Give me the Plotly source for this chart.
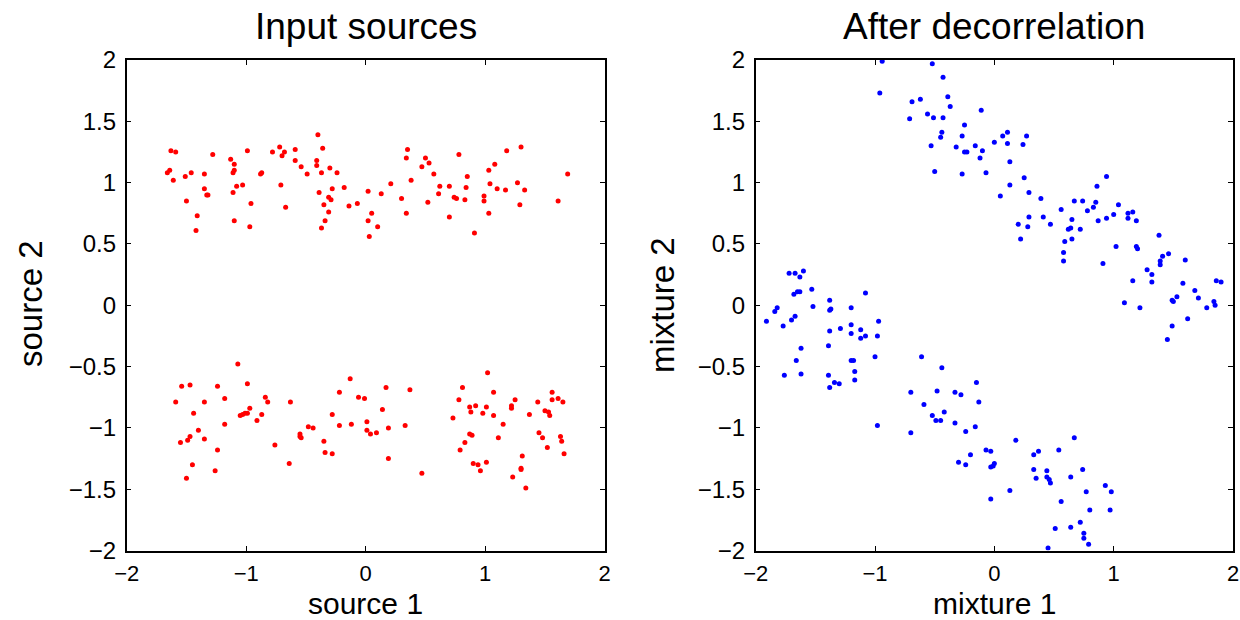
import plotly.graph_objects as go

# ---- Input sources: two independent sources (source 1, source 2) ----
src1 = [
    -1.66, -1.64, -1.63, -1.59, -1.61, -1.51, -1.50, -1.46, -1.41, -1.42,
    -1.35, -1.35, -1.33, -1.32, -1.28, -1.13, -1.10, -1.11, -1.10, -1.08,
    -1.11, -1.10, -1.03, -0.99, -0.96, -0.97, -0.88, -0.87, -0.78, -0.72,
    -0.70, -0.68, -0.71, -0.67, -0.59, -0.59, -0.54, -0.49, -0.40, -0.36,
    -0.41, -0.41, -0.37, -0.30, -0.24, -0.39, -0.28, -0.31, -0.29, -0.35,
    -0.31, -0.34, -0.37, -0.18, -0.14, -0.07, 0.02, 0.05, 0.02, 0.03,
    0.10, 0.13, 0.21, 0.30, 0.34, 0.35, 0.34, 0.38, 0.47, 0.50,
    0.53, 0.52, 0.57, 0.62, 0.61, 0.70, 0.70, 0.74, 0.76, 0.78,
    0.85, 0.84, 0.83, 0.91, 0.99, 0.99, 1.03, 1.04, 1.03, 1.08,
    1.10, 1.18, 1.17, 1.27, 1.29, 1.30, 1.33, 1.61, 1.69,
    -1.59, -1.55, -1.54, -1.47, -1.44, -1.47, -1.49, -1.50, -1.45, -1.40,
    -1.35, -1.35, -1.24, -1.18, -1.18, -1.24, -1.26, -1.07, -0.99, -1.05,
    -1.03, -1.01, -0.99, -0.97, -0.91, -0.87, -0.84, -0.82, -0.76, -0.63,
    -0.64, -0.55, -0.55, -0.54, -0.48, -0.44, -0.35, -0.34, -0.28, -0.28,
    -0.22, -0.22, -0.13, -0.12, -0.06, -0.01, 0.01, 0.01, 0.04, 0.09,
    0.14, 0.17, 0.19, 0.19, 0.33, 0.37, 0.47, 0.73, 0.78, 0.81,
    0.79, 0.83, 0.87, 0.89, 0.87, 0.88, 0.92, 0.90, 0.94, 0.96,
    0.98, 1.01, 1.01, 1.02, 1.07, 1.07, 1.11, 1.15, 1.22, 1.22,
    1.25, 1.23, 1.31, 1.30, 1.30, 1.34, 1.37, 1.44, 1.45, 1.48,
    1.50, 1.53, 1.54, 1.52, 1.56, 1.56, 1.61, 1.65, 1.63, 1.64,
    1.66,
]
src2 = [
    1.08, 1.10, 1.26, 1.25, 1.02, 1.05, 0.85, 1.08, 0.73, 0.61,
    1.07, 0.95, 0.90, 0.90, 1.23, 1.19, 1.15, 1.08, 1.10, 0.97,
    0.92, 0.69, 0.98, 1.26, 0.83, 0.64, 1.07, 1.08, 1.25, 1.29,
    1.22, 1.25, 0.98, 0.80, 1.27, 1.18, 1.13, 1.07, 1.39, 1.28,
    1.18, 1.14, 1.08, 1.12, 1.08, 0.92, 0.95, 0.88, 0.86, 0.82,
    0.76, 0.69, 0.63, 0.96, 0.81, 0.83, 0.93, 0.75, 0.69, 0.56,
    0.64, 0.91, 0.99, 0.87, 1.20, 1.27, 0.75, 1.02, 1.13, 1.20,
    1.16, 0.84, 1.07, 0.97, 0.91, 0.97, 0.72, 0.88, 0.87, 1.23,
    1.05, 0.96, 0.86, 0.59, 0.89, 0.85, 1.10, 0.99, 0.75, 1.15,
    0.95, 1.26, 0.94, 1.00, 0.82, 1.29, 0.94, 0.85, 1.07,
    -0.79, -1.12, -0.66, -0.65, -0.88, -1.07, -1.10, -1.41, -1.30, -1.02,
    -0.79, -1.09, -0.66, -0.76, -0.97, -1.18, -1.35, -0.48, -0.64, -0.90,
    -0.89, -0.88, -0.88, -0.84, -0.94, -0.89, -0.75, -0.79, -1.14, -0.79,
    -1.29, -1.05, -1.07, -1.08, -0.99, -1.00, -1.11, -1.20, -1.21, -0.89,
    -0.71, -0.98, -0.60, -0.97, -0.75, -0.76, -0.95, -1.02, -1.05, -1.04,
    -0.85, -0.67, -1.00, -1.25, -0.98, -0.69, -1.37, -0.92, -0.77, -0.67,
    -1.18, -1.12, -1.05, -1.06, -0.83, -0.87, -0.82, -1.29, -1.30, -1.35,
    -0.88, -0.83, -1.28, -0.55, -0.71, -0.90, -1.08, -0.97, -0.82, -0.84,
    -0.77, -1.40, -1.23, -1.33, -1.34, -1.49, -0.89, -0.79, -1.04, -1.08,
    -0.86, -0.87, -0.90, -1.16, -0.71, -0.77, -0.76, -0.79, -1.07, -1.11,
    -1.21,
]

# ---- After decorrelation: whitened mixtures (mixture 1, mixture 2) ----
mix1 = [
    -0.94, -0.96, -0.52, -0.43, -0.39, -0.37, -0.69, -0.62, -0.71, -0.56,
    -0.51, -0.43, -0.44, -0.45, -0.53, -0.50, -0.25, -0.27, -0.32, -0.25,
    -0.23, -0.27, -0.16, -0.10, -0.12, -0.11, -0.07, 0.00, 0.07, 0.11,
    0.11, 0.13, 0.13, 0.05, 0.24, 0.27, 0.25, 0.29, 0.29, 0.28,
    0.20, 0.22, 0.39, 0.41, 0.47, 0.56, 0.65, 0.62, 0.64, 0.59,
    0.65, 0.58, 0.58, 0.67, 0.74, 0.78, 0.72, 0.83, 0.85, 0.86,
    0.94, 0.87, 0.94, 1.00, 1.04, 0.91, 1.02, 1.12, 1.16, 1.12,
    1.19, 1.19, 1.20, 1.16, 1.09, 1.22, 1.28, 1.32, 1.32, 1.38,
    1.39, 1.39, 1.41, 1.46, 1.49, 1.50, 1.53, 1.60, 1.58, 1.62,
    1.49, 1.45, 1.68, 1.71, 1.78, 1.84, 1.85, 1.86, 1.90,
    -1.91, -1.84, -1.82, -1.77, -1.72, -1.67, -1.63, -1.60, -1.65, -1.63,
    -1.68, -1.70, -1.67, -1.53, -1.52, -1.38, -1.38, -1.37, -1.38, -1.29,
    -1.20, -1.20, -1.20, -1.12, -1.12, -1.08, -1.08, -0.97, -0.98, -1.62,
    -1.66, -1.76, -1.62, -1.39, -1.39, -1.34, -1.30, -1.38, -1.20, -1.18,
    -1.17, -1.17, -1.00, -0.98, -0.61, -0.44, -0.70, -0.48, -0.33, -0.28,
    -0.15, -0.59, -0.13, -0.52, -0.49, -0.45, -0.42, -0.33, -0.16, -0.24,
    -0.70, -0.07, -0.03, -0.20, -0.30, -0.24, -0.03, -0.01, 0.00, -0.03,
    0.18, 0.13, 0.33, 0.37, 0.33, 0.35, 0.44, 0.44, 0.46, 0.47,
    0.54, 0.67, 0.64, 0.74, 0.56, 0.51, 0.64, 0.72, 0.75, 0.75,
    0.79, 0.45, 0.77, 0.80, 0.93, 0.98, 0.97,
]
mix2 = [
    1.99, 1.73, 1.97, 1.86, 1.70, 1.62, 1.66, 1.68, 1.52, 1.56,
    1.53, 1.53, 1.41, 1.37, 1.30, 1.09, 1.47, 1.38, 1.29, 1.25,
    1.25, 1.07, 1.30, 1.26, 1.20, 1.59, 1.08, 1.33, 1.38, 1.41,
    1.32, 1.17, 0.98, 0.89, 1.31, 1.38, 1.04, 0.92, 0.72, 0.64,
    0.66, 0.54, 0.87, 0.72, 0.66, 0.78, 0.70, 0.62, 0.63, 0.52,
    0.54, 0.43, 0.36, 0.85, 0.85, 0.77, 0.62, 0.80, 0.84, 0.97,
    1.05, 0.69, 0.71, 0.74, 0.82, 0.34, 0.48, 0.75, 0.76, 0.71,
    0.69, 0.48, 0.46, 0.20, 0.02, -0.02, 0.29, 0.25, 0.19, 0.57,
    0.36, 0.33, 0.40, 0.42, 0.04, 0.03, 0.07, 0.37, 0.18, -0.11,
    -0.17, -0.28, 0.12, 0.06, -0.02, 0.03, 0.00, 0.20, 0.19,
    -0.13, -0.05, -0.02, -0.17, 0.26, 0.26, 0.23, 0.28, 0.11, 0.11,
    0.09, -0.12, -0.09, 0.13, -0.01, 0.04, -0.04, -0.03, -0.21, -0.19,
    -0.02, -0.16, -0.23, -0.20, -0.27, -0.25, 0.10, -0.13, -0.25, -0.35,
    -0.45, -0.57, -0.56, -0.33, -0.57, -0.63, -0.64, -0.67, -0.45, -0.45,
    -0.54, -0.61, -0.42, -0.98, -0.42, -0.51, -0.71, -0.70, -0.71, -0.73,
    -0.63, -0.81, -0.79, -0.90, -0.94, -0.94, -0.87, -0.96, -0.99, -1.03,
    -1.04, -1.18, -1.19, -1.22, -1.28, -1.30, -1.32, -1.31, -1.29, -1.58,
    -1.10, -1.51, -1.22, -1.19, -1.34, -1.41, -1.35, -1.40, -1.42, -1.45,
    -1.18, -1.08, -1.40, -1.34, -1.60, -1.82, -1.81, -1.77, -1.86, -1.90,
    -1.95, -1.98, -1.52, -1.67, -1.47, -1.52, -1.67,
]

tick_vals_x = [-2, -1, 0, 1, 2]
tick_vals_y = [-2, -1.5, -1, -0.5, 0, 0.5, 1, 1.5, 2]

W, H = 1240, 620
FONT = "Liberation Sans, Arial, Helvetica, sans-serif"

# panel boxes in pixels (left, right, top, bottom)
panels = [(126.7, 604.7, 60.0, 550.5), (755.7, 1233.0, 60.0, 550.5)]

fig = go.Figure()
fig.add_trace(go.Scatter(x=src1, y=src2, mode="markers",
                         marker=dict(color="#ff0000", size=5),
                         xaxis="x", yaxis="y", showlegend=False))
fig.add_trace(go.Scatter(x=mix1, y=mix2, mode="markers",
                         marker=dict(color="#0000ff", size=5),
                         xaxis="x2", yaxis="y2", showlegend=False))

axis_common = dict(
    showgrid=False, zeroline=False, showline=True, linecolor="black",
    linewidth=1.5, mirror="ticks", ticks="inside", ticklen=5,
    tickcolor="black", tickwidth=1, automargin=False,
)

layout_axes = {}
for i, (l, r, t, b) in enumerate(panels):
    sfx = "" if i == 0 else str(i + 1)
    layout_axes["xaxis" + sfx] = dict(
        axis_common, domain=[l / W, r / W], range=[-2, 2],
        tickvals=tick_vals_x, anchor="y" + sfx, ticklabelstandoff=2,
        tickfont=dict(family=FONT, size=22, color="black"))
    layout_axes["yaxis" + sfx] = dict(
        axis_common, domain=[1 - b / H, 1 - t / H], range=[-2, 2],
        tickvals=tick_vals_y, anchor="x" + sfx, ticklabelstandoff=4,
        tickfont=dict(family=FONT, size=24, color="black"))

def label(text, x_px, y_px, size, angle=0):
    return dict(text=text, x=x_px / W, y=1 - y_px / H, xref="paper",
                yref="paper", xanchor="center", yanchor="middle",
                showarrow=False, textangle=angle,
                font=dict(family=FONT, size=size, color="black"))

annotations = [
    label("Input sources", 365.7, 26, 37),
    label("After decorrelation", 994.4, 26, 37),
    label("source 1", 365.7, 603, 30),
    label("mixture 1", 994.4, 603, 30),
    label("source 2", 31, 304, 33, -90),
    label("mixture 2", 662, 305, 33, -90),
]

fig.update_layout(
    width=W, height=H, margin=dict(l=0, r=0, t=0, b=0),
    paper_bgcolor="white", plot_bgcolor="white",
    annotations=annotations, **layout_axes,
)

# page without the default body margin so the figure fills the window
fig.write_html(
    "out.html",
    post_script="document.body.style.margin='0';"
                "document.documentElement.style.overflow='hidden';",
)
